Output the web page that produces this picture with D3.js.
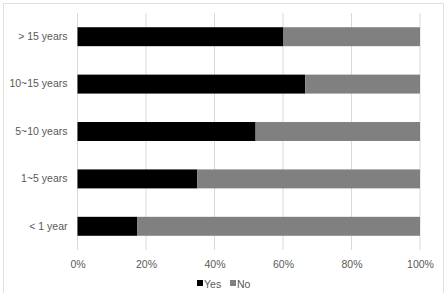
<!DOCTYPE html>
<html>
<head>
<meta charset="utf-8">
<script src="https://cdn.jsdelivr.net/npm/d3@7"></script>
<style>
  body { margin: 0; background: #fff; }
  text { font-family: "Liberation Sans", Arial, sans-serif; fill: #595959; }
</style>
</head>
<body>
<div id="container"></div>
<script>
const categories = ['> 15 years', '10~15 years', '5~10 years', '1~5 years', '< 1 year'];
const yesValues = [60, 66.5, 52, 35, 17.5];
const noValues = yesValues.map(v => 100 - v);
const xTicks = [0, 20, 40, 60, 80, 100];
const seriesNames = ['Yes', 'No'];
const seriesColors = ['#000000', '#808080'];

const width = 448;
const height = 293;
const margin = {top: 13, right: 28, bottom: 43, left: 77.5};

const svg = d3.select('#container').append('svg')
  .attr('width', width)
  .attr('height', height);

// light chart border
svg.append('rect')
  .attr('x', 3.5).attr('y', 3.5)
  .attr('width', 440).attr('height', 300)
  .attr('fill', 'none')
  .attr('stroke', '#e0e0e0');

const x = d3.scaleLinear()
  .domain([0, 100])
  .range([margin.left, width - margin.right]);

const y = d3.scaleBand()
  .domain(categories)
  .range([margin.top, height - margin.bottom])
  .paddingInner(0.6)
  .paddingOuter(0.3);

// gridlines
svg.append('g')
  .selectAll('line')
  .data(xTicks)
  .enter()
  .append('line')
  .attr('x1', d => x(d)).attr('x2', d => x(d))
  .attr('y1', margin.top).attr('y2', height - margin.bottom)
  .attr('stroke', '#d9d9d9')
  .attr('stroke-width', 1);

const rows = categories.map((c, i) => ({cat: c, yes: yesValues[i], no: noValues[i]}));
const stacked = d3.stack().keys(['yes', 'no'])(rows);

svg.append('g')
  .selectAll('g')
  .data(stacked)
  .enter()
  .append('g')
  .attr('fill', (d, i) => seriesColors[i])
  .selectAll('rect')
  .data(d => d)
  .enter()
  .append('rect')
  .attr('x', d => x(d[0]))
  .attr('y', d => y(d.data.cat))
  .attr('width', d => x(d[1]) - x(d[0]))
  .attr('height', y.bandwidth());

// x axis labels
const xAxis = svg.append('g')
  .attr('transform', `translate(0,${height - margin.bottom + 8})`)
  .call(d3.axisBottom(x).tickValues(xTicks).tickSize(0).tickFormat(d => d + '%'));
xAxis.select('.domain').remove();
xAxis.selectAll('text')
  .attr('font-size', 10.5)
  .style('font-family', '"Liberation Sans", Arial, sans-serif')
  .attr('fill', '#595959');

// y axis labels
const yAxis = svg.append('g')
  .attr('transform', `translate(${margin.left - 10},0)`)
  .call(d3.axisLeft(y).tickSize(0));
yAxis.select('.domain').remove();
yAxis.selectAll('text')
  .attr('font-size', 10.5)
  .attr('x', 0)
  .style('font-family', '"Liberation Sans", Arial, sans-serif')
  .attr('fill', '#595959');

// legend
const legendX = [197, 230];
const legend = svg.append('g').attr('transform', `translate(0,${height - 9})`);
const item = legend.selectAll('g')
  .data(seriesNames)
  .enter()
  .append('g')
  .attr('transform', (d, i) => `translate(${legendX[i]},0)`);
item.append('rect')
  .attr('x', 0).attr('y', -4)
  .attr('width', 6).attr('height', 6)
  .attr('fill', (d, i) => seriesColors[i]);
item.append('text')
  .attr('x', 7).attr('y', 4)
  .attr('font-size', 10.5)
  .text(d => d);
</script>
</body>
</html>
